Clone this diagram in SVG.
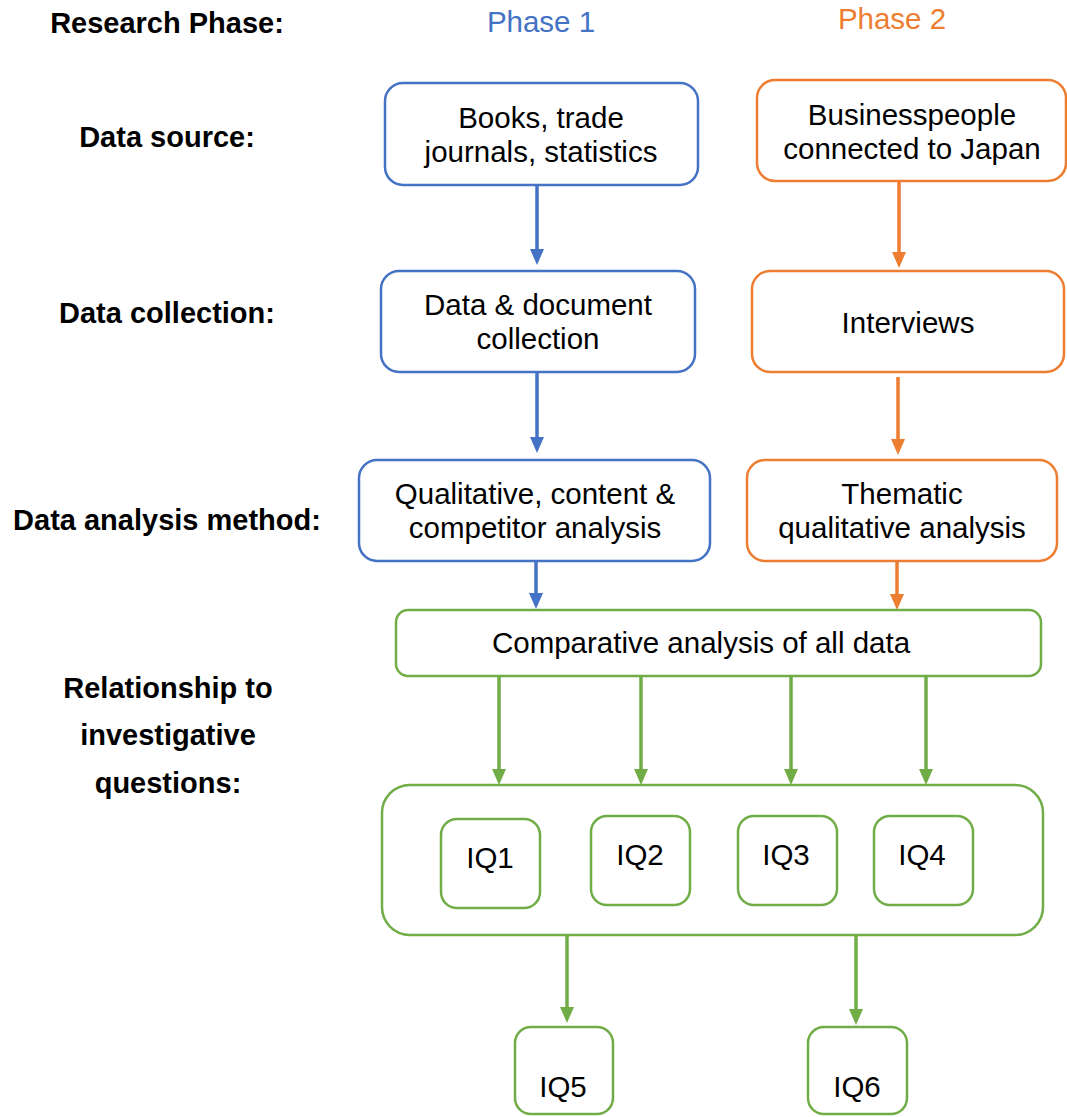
<svg xmlns="http://www.w3.org/2000/svg" width="1067" height="1117" viewBox="0 0 1067 1117">
  <defs>
    <style>
      text { font-family: "Liberation Sans", Arial, sans-serif; font-size: 29.5px; fill: #000; text-anchor: middle; }
      .lbl { font-weight: bold; font-size: 29px; }
      .box { fill: #fff; stroke-width: 2.5; }
      .b { stroke: #4472C4; }
      .o { stroke: #ED7D31; }
      .g { stroke: #70AD47; }
      .ar { fill: none; stroke-width: 3.5; }
    </style>
    <marker id="mb" markerUnits="userSpaceOnUse" markerWidth="18" markerHeight="16" refX="8" refY="8" orient="auto">
      <path d="M0,1 L16,8 L0,15 z" fill="#4472C4"/>
    </marker>
    <marker id="mo" markerUnits="userSpaceOnUse" markerWidth="18" markerHeight="16" refX="8" refY="8" orient="auto">
      <path d="M0,1 L16,8 L0,15 z" fill="#ED7D31"/>
    </marker>
    <marker id="mg" markerUnits="userSpaceOnUse" markerWidth="18" markerHeight="16" refX="8" refY="8" orient="auto">
      <path d="M0,1 L16,8 L0,15 z" fill="#70AD47"/>
    </marker>
  </defs>
  <rect width="1067" height="1117" fill="#fff"/>

  <g id="labels">
    <text class="lbl" x="167" y="33">Research Phase:</text>
    <text class="lbl" x="167" y="147">Data source:</text>
    <text class="lbl" x="167" y="323">Data collection:</text>
    <text class="lbl" x="167" y="530">Data analysis method:</text>
    <text class="lbl" x="168" y="698">Relationship to</text>
    <text class="lbl" x="168" y="745">investigative</text>
    <text class="lbl" x="168" y="793">questions:</text>
    <text x="541" y="32" style="fill:#4472C4">Phase 1</text>
    <text x="892" y="29" style="fill:#ED7D31">Phase 2</text>
  </g>

  <g id="connectors">
    <line class="ar b" x1="537" y1="185" x2="537" y2="257" marker-end="url(#mb)"/>
    <line class="ar b" x1="537" y1="372" x2="537" y2="445" marker-end="url(#mb)"/>
    <line class="ar b" x1="536" y1="561" x2="536" y2="601" marker-end="url(#mb)"/>
    <line class="ar o" x1="899" y1="181" x2="899" y2="260" marker-end="url(#mo)"/>
    <line class="ar o" x1="898" y1="377" x2="898" y2="447" marker-end="url(#mo)"/>
    <line class="ar o" x1="897" y1="561" x2="897" y2="602" marker-end="url(#mo)"/>
    <line class="ar g" x1="499" y1="676" x2="499" y2="777" marker-end="url(#mg)"/>
    <line class="ar g" x1="641" y1="676" x2="641" y2="777" marker-end="url(#mg)"/>
    <line class="ar g" x1="791" y1="676" x2="791" y2="777" marker-end="url(#mg)"/>
    <line class="ar g" x1="926" y1="676" x2="926" y2="777" marker-end="url(#mg)"/>
    <line class="ar g" x1="567" y1="935" x2="567" y2="1015" marker-end="url(#mg)"/>
    <line class="ar g" x1="856" y1="935" x2="856" y2="1017" marker-end="url(#mg)"/>
  </g>

  <g id="n-books">
    <rect class="box b" x="385" y="83" width="313" height="102" rx="18"/>
    <text x="541" y="128">Books, trade</text>
    <text x="541" y="162">journals, statistics</text>
  </g>
  <g id="n-collection">
    <rect class="box b" x="381" y="271" width="314" height="101" rx="18"/>
    <text x="538" y="315">Data &amp; document</text>
    <text x="538" y="349">collection</text>
  </g>
  <g id="n-qual">
    <rect class="box b" x="359" y="460" width="351" height="101" rx="18"/>
    <text x="535" y="504">Qualitative, content &amp;</text>
    <text x="535" y="538">competitor analysis</text>
  </g>
  <g id="n-business">
    <rect class="box o" x="757" y="80" width="309" height="101" rx="18"/>
    <text x="912" y="125">Businesspeople</text>
    <text x="912" y="159">connected to Japan</text>
  </g>
  <g id="n-interviews">
    <rect class="box o" x="752" y="271" width="312" height="101" rx="18"/>
    <text x="908" y="333">Interviews</text>
  </g>
  <g id="n-thematic">
    <rect class="box o" x="747" y="460" width="310" height="101" rx="18"/>
    <text x="902" y="504">Thematic</text>
    <text x="902" y="538">qualitative analysis</text>
  </g>
  <g id="n-comparative">
    <rect class="box g" x="396" y="610" width="645" height="66" rx="12"/>
    <text x="701" y="653">Comparative analysis of all data</text>
  </g>
  <g id="n-container">
    <rect class="box g" x="382" y="785" width="661" height="150" rx="28"/>
  </g>
  <g id="n-iq1">
    <rect class="box g" x="441" y="819" width="99" height="89" rx="16"/>
    <text x="490" y="868">IQ1</text>
  </g>
  <g id="n-iq2">
    <rect class="box g" x="591" y="816" width="99" height="89" rx="16"/>
    <text x="640" y="865">IQ2</text>
  </g>
  <g id="n-iq3">
    <rect class="box g" x="738" y="816" width="99" height="89" rx="16"/>
    <text x="786" y="865">IQ3</text>
  </g>
  <g id="n-iq4">
    <rect class="box g" x="874" y="816" width="99" height="89" rx="16"/>
    <text x="922" y="865">IQ4</text>
  </g>
  <g id="n-iq5">
    <rect class="box g" x="515" y="1027" width="98" height="87" rx="16"/>
    <text x="563" y="1097">IQ5</text>
  </g>
  <g id="n-iq6">
    <rect class="box g" x="808" y="1027" width="99" height="87" rx="16"/>
    <text x="857" y="1097">IQ6</text>
  </g>
</svg>
